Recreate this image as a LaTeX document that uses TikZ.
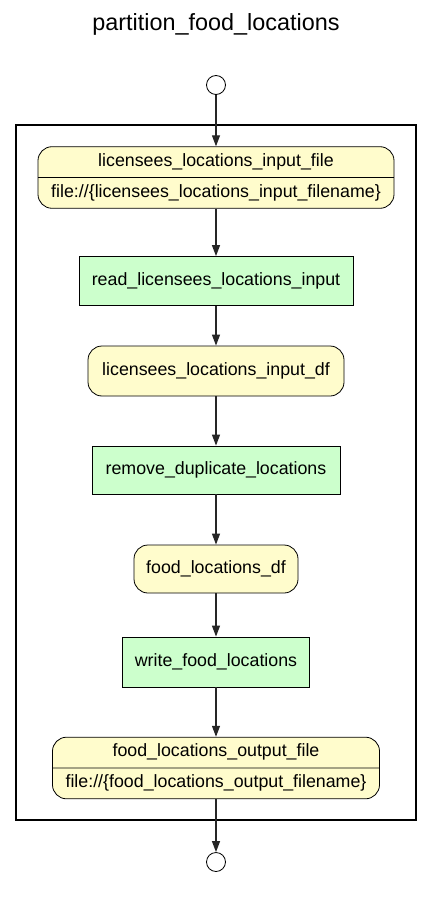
\documentclass[tikz,border=0pt]{standalone}
\usepackage{fontspec}
\setmainfont{Liberation Sans}
\usepackage{tikz}
\usetikzlibrary{arrows.meta}
\usetikzlibrary{shapes.multipart}

\tikzset{
  datafile/.style={rectangle split, rectangle split parts=2, draw, line width=0.8pt,
    rounded corners=14pt, fill=yellow!20, inner ysep=4.5pt, inner xsep=4pt,
    font=\fontsize{17.8}{21}\selectfont\strut, align=center},
  dataframe/.style={rectangle, draw, line width=0.8pt, rounded corners=14pt,
    fill=yellow!20, font=\fontsize{17.8}{21}\selectfont, inner sep=0pt},
  task/.style={rectangle, draw, line width=0.8pt, fill=green!20,
    font=\fontsize{17.8}{21}\selectfont, inner sep=0pt},
  terminal/.style={circle, draw, line width=0.8pt, fill=white,
    minimum size=19pt, inner sep=0pt},
  flow/.style={line width=1.2pt, draw=black!85, -{Triangle[length=11pt,width=8pt]}}
}

\begin{document}
\begin{tikzpicture}[x=1pt,y=-1pt]
    \useasboundingbox (0,0) rectangle (432,909);
    \node (title) at (216,24) {\fontsize{23.4}{27}\selectfont partition\_food\_locations};
    \draw[line width=2.2pt] (16,125) rectangle (416,820);

    \node[terminal] (start) at (216,85) {};
    \node[datafile, minimum width=356pt] (infile) at (216,177.5)
      {licensees\_locations\_input\_file\nodepart{two}file://\{licensees\_locations\_input\_filename\}};
    \node[task, minimum width=274pt, minimum height=49pt] (readin) at (216,281)
      {read\_licensees\_locations\_input};
    \node[dataframe, minimum width=256pt, minimum height=50pt] (indf) at (216,371)
      {licensees\_locations\_input\_df};
    \node[task, minimum width=248pt, minimum height=48pt] (dedup) at (216,470)
      {remove\_duplicate\_locations};
    \node[dataframe, minimum width=164pt, minimum height=48pt] (fooddf) at (216,569)
      {food\_locations\_df};
    \node[task, minimum width=187pt, minimum height=50pt] (writeout) at (216,662)
      {write\_food\_locations};
    \node[datafile, minimum width=327pt] (outfile) at (216,768)
      {food\_locations\_output\_file\nodepart{two}file://\{food\_locations\_output\_filename\}};
    \node[terminal] (finish) at (216,862) {};

    \foreach \a/\b in {start/infile, infile/readin, readin/indf, indf/dedup,
                       dedup/fooddf, fooddf/writeout, writeout/outfile, outfile/finish}{
      \draw[flow] (\a) -- (\b);
    };
  \end{tikzpicture}
\end{document}
